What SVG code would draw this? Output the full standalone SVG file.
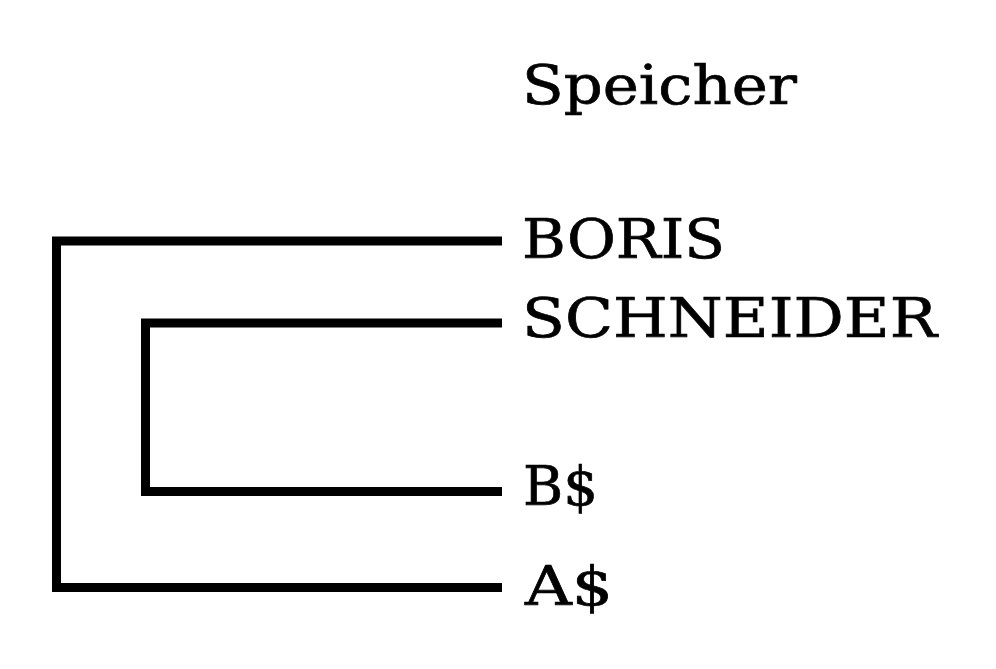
<svg xmlns="http://www.w3.org/2000/svg" width="996" height="669" viewBox="0 0 996 669">
<style>
.t{font-family:"DejaVu Serif","Liberation Serif",serif;font-size:55px;fill:#000;stroke:#000;stroke-width:0.7}
.c{fill:none;stroke:#000;stroke-width:9;stroke-linejoin:miter}
</style>
<rect width="996" height="669" fill="#fff"/>
<g id="connectors">
<polyline class="c" points="502,241 56.5,241 56.5,587.5 502,587.5"/>
<polyline class="c" points="502,323 145.5,323 145.5,491.5 502,491.5"/>
</g>
<g id="title"><text class="t" x="522" y="104" textLength="275" lengthAdjust="spacingAndGlyphs">Speicher</text></g>
<g id="boris"><text class="t" x="522" y="258" textLength="203" lengthAdjust="spacingAndGlyphs">BORIS</text></g>
<g id="schneider"><text class="t" x="522" y="337" textLength="415" lengthAdjust="spacingAndGlyphs">SCHNEIDER</text></g>
<g id="b"><text class="t" x="523" y="505" textLength="75" lengthAdjust="spacingAndGlyphs">B$</text></g>
<g id="a"><text class="t" x="525" y="605" textLength="88" lengthAdjust="spacingAndGlyphs">A$</text></g>
</svg>
